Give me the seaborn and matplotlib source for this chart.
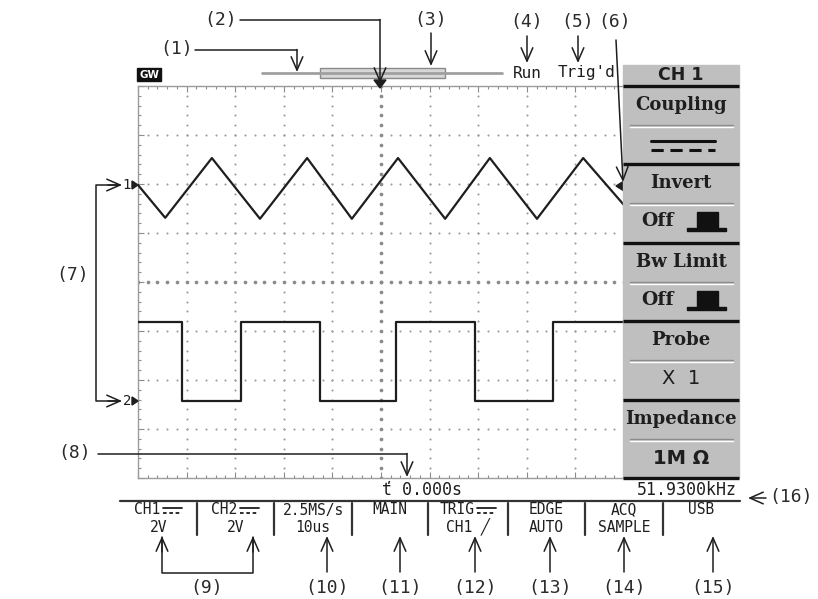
import numpy as np
import matplotlib
matplotlib.use("Agg")
import matplotlib.pyplot as plt
import seaborn as sns
from matplotlib.patches import Rectangle, Polygon

# screen traces in divisions (x 0..10, y -4..4)
ch1_t = [0.0, 0.56, 1.52, 2.51, 3.48, 4.40, 5.35, 6.32, 7.24, 8.21, 9.16, 10.0]
ch1_v = [1.98, 1.31, 2.53, 1.29, 2.53, 1.29, 2.53, 1.29, 2.53, 1.29, 2.53, 1.57]
ch2_edges = [0.0, 0.91, 2.12, 3.74, 5.31, 6.93, 8.54, 10.0]
ch2_level = [-0.82, -2.43, -0.82, -2.43, -0.82, -2.43, -0.82, -0.82]

# side menu and status bar text
menu_titles = ["Coupling", "Invert", "Bw Limit", "Probe", "Impedance"]
menu_values = ["", "Off", "Off", "X  1", "1M \u03a9"]
bar_top = ["CH1", "CH2", "2.5MS/s", "MAIN", "TRIG", "EDGE", "ACQ", "USB"]
bar_bottom = ["2V", "2V", "10us", "", "CH1 \u2571", "AUTO", "SAMPLE", ""]
bar_callouts = ["(9)", "(10)", "(11)", "(12)", "(13)", "(14)", "(15)"]

W, H = 818, 599
INK = "#1e1e1e"
MONO = "DejaVu Sans Mono"
SERIF = "DejaVu Serif"

sns.set_theme(style="white")
plt.rcParams["font.family"] = ["DejaVu Sans"]

fig = plt.figure(figsize=(W / 100, H / 100), dpi=100)
fig.patch.set_facecolor("white")

# ---- oscilloscope screen ----
sx0, sx1, sy0, sy1 = 138, 624, 86, 478
ax = fig.add_axes([sx0 / W, 1 - sy1 / H, (sx1 - sx0) / W, (sy1 - sy0) / H])
ax.set_xlim(0, 10)
ax.set_ylim(-4, 4)
ax.set_facecolor("white")

fine = np.arange(0, 10.01, 0.2)
fine_y = np.arange(-4, 4.01, 0.2)
for gy in [-3, -2, -1, 1, 2, 3]:
    ax.scatter(fine, np.full_like(fine, gy), s=2.2, color="#9a9a9a", lw=0, zorder=1)
for gx in [1, 2, 3, 4, 6, 7, 8, 9]:
    ax.scatter(np.full_like(fine_y, gx), fine_y, s=2.2, color="#9a9a9a", lw=0, zorder=1)
# centre cross, heavier dots
ax.scatter(fine, np.zeros_like(fine), s=7, color="#8a8a8a", lw=0, zorder=1)
ax.scatter(np.full_like(fine_y, 5), fine_y, s=7, color="#8a8a8a", lw=0, zorder=1)

ax.set_xticks(np.arange(0, 11, 1))
ax.set_yticks(np.arange(-4, 5, 1))
ax.set_xticks(fine, minor=True)
ax.set_yticks(fine_y, minor=True)
ax.tick_params(which="both", direction="in", top=True, bottom=True, left=True, right=False,
               labelbottom=False, labelleft=False, color="#8c8c8c", width=0.8)
ax.tick_params(which="major", length=4)
ax.tick_params(which="minor", length=2.5)
for side, sp in ax.spines.items():
    sp.set_color("#9c9c9c")
    sp.set_linewidth(1.0)
ax.spines["right"].set_visible(False)

sns.lineplot(x=ch1_t, y=ch1_v, ax=ax, sort=False, estimator=None, color=INK, lw=1.6, zorder=3)
sns.lineplot(x=ch2_edges, y=ch2_level, ax=ax, sort=False, estimator=None, color=INK, lw=1.6,
             drawstyle="steps-post", zorder=3)

# ---- overlay in pixel coordinates ----
ov = fig.add_axes([0, 0, 1, 1], zorder=5)
ov.set_xlim(0, W)
ov.set_ylim(H, 0)
ov.axis("off")
ov.patch.set_alpha(0)


def arrow(tip, tail, lw=1.1):
    ov.annotate("", xy=tip, xytext=tail,
                arrowprops=dict(arrowstyle="->,head_length=0.8,head_width=0.35",
                                lw=lw, color=INK, shrinkA=0, shrinkB=0))


def label(x, y, s, **kw):
    ov.text(x, y, s, ha="center", va="center", family=MONO, fontsize=13, color="#2a2a2a", **kw)


# top status strip
ov.add_patch(Rectangle((137, 68), 24, 13, color="#111111"))
ov.text(149, 74.5, "GW", ha="center", va="center", color="white", fontsize=7.5, weight="bold")
ov.plot([262, 502], [73, 73], color="#a0a0a0", lw=2)
ov.add_patch(Rectangle((320, 68), 125, 10, facecolor="#d8d8d8", edgecolor="#8a8a8a", lw=1))
ov.add_patch(Polygon([[374, 80], [386, 80], [380, 88]], closed=True, color=INK))
ov.text(527, 73, "Run", ha="center", va="center", family=MONO, fontsize=11.5, color=INK)
ov.text(586, 73, "Trig'd", ha="center", va="center", family=MONO, fontsize=11.5, color=INK)

# trigger level and channel markers
ov.add_patch(Polygon([[624, 181], [624, 191], [616, 186]], closed=True, color=INK))
for yy, ch in [(185, "1"), (401, "2")]:
    ov.text(127, yy, ch, ha="center", va="center", family=MONO, fontsize=10, color=INK)
    ov.add_patch(Polygon([[132, yy - 4], [132, yy + 4], [138, yy]], closed=True, color=INK))

# side menu
mx0, mx1 = 623, 739
ov.add_patch(Rectangle((mx0, 65), mx1 - mx0, 413, color="#bfbfbf", zorder=1))
ov.text(681, 75, "CH 1", ha="center", va="center", fontsize=12.5, weight="bold", color=INK)
bounds = [86, 164, 243, 321, 400, 478]
for i, title in enumerate(menu_titles):
    top = bounds[i]
    ov.plot([mx0, mx1], [top, top], color="#111111", lw=2.4, solid_capstyle="butt")
    ov.text(681, top + 19, title, ha="center", va="center", family=SERIF, weight="bold",
            fontsize=13, color=INK)
    ov.plot([630, 733], [top + 39, top + 39], color="#8c8c8c", lw=1)
    ov.plot([630, 733], [top + 41, top + 41], color="white", lw=1)
    val = menu_values[i]
    vy = top + 58
    if title in ("Invert", "Bw Limit"):
        ov.text(658, vy - 1, val, ha="center", va="center", family=SERIF, weight="bold",
                fontsize=13.5, color=INK)
        ov.add_patch(Rectangle((687, vy + 6), 39, 3, color="#111111"))
        ov.add_patch(Rectangle((697, vy - 10), 21, 17, color="#111111"))
    elif title == "Coupling":
        ov.plot([651, 715], [vy - 3, vy - 3], color="#111111", lw=2.2)
        ov.plot([651, 715], [vy + 6, vy + 6], color="#111111", lw=2.2, dashes=(4, 2.2))
    elif title == "Probe":
        ov.text(681, vy, val, ha="center", va="center", fontsize=14, color=INK)
    else:
        ov.text(681, vy, val, ha="center", va="center", fontsize=14, weight="bold", color=INK)
ov.plot([mx0, mx1], [478, 478], color="#111111", lw=2.4, solid_capstyle="butt")

# time / frequency line and bottom bar
ov.text(422, 490, "\u0165 0.000s", ha="center", va="center", family=MONO, fontsize=12, color=INK)
ov.text(737, 490, "51.9300kHz", ha="right", va="center", family=MONO, fontsize=12, color=INK)
ov.plot([120, 740], [501, 501], color="#333333", lw=1.6)
seps = [120, 197, 274, 352, 428, 508, 585, 663, 740]
for sx in seps[1:-1]:
    ov.plot([sx, sx], [503, 535], color="#333333", lw=1.6)
BAR_FS = 10.5
char_w = 0.602 * BAR_FS * 100 / 72
for i, (t1, t2) in enumerate(zip(bar_top, bar_bottom)):
    cx = (seps[i] + seps[i + 1]) / 2
    if t1 in ("CH1", "CH2", "TRIG"):
        tx = cx - 11
        ov.text(tx, 510, t1, ha="center", va="center", family=MONO, fontsize=BAR_FS, color=INK)
        x0 = tx + char_w * len(t1) / 2 + 2
        ov.plot([x0, x0 + 19], [508, 508], color=INK, lw=1.3)
        ov.plot([x0, x0 + 19], [513, 513], color=INK, lw=1.3, dashes=(2, 1.5))
    else:
        ov.text(cx, 510, t1, ha="center", va="center", family=MONO, fontsize=BAR_FS, color=INK)
    ov.text(cx, 527, t2, ha="center", va="center", family=MONO, fontsize=BAR_FS, color=INK)

# callouts along the bottom
ov.plot([162, 162, 253, 253], [537, 573, 573, 537], color=INK, lw=1.1)
arrow((162, 536), (162, 552))
arrow((253, 536), (253, 552))
label(207, 588, bar_callouts[0])
for x, txt in zip([327, 400, 475, 550, 624, 713], bar_callouts[1:]):
    arrow((x, 536), (x, 572))
    label(x, 588, txt)
arrow((748, 498), (766, 498))
label(791, 497, "(16)")

# callouts along the top
label(177, 49, "(1)")
ov.plot([195, 297], [50, 50], color=INK, lw=1.1)
arrow((297, 72), (297, 49.5))
label(221, 20, "(2)")
ov.plot([240, 380], [20, 20], color=INK, lw=1.1)
arrow((380, 83), (380, 19.5))
label(431, 20, "(3)")
arrow((431, 66), (431, 33))
label(527, 22, "(4)")
arrow((527, 63), (527, 36))
label(578, 22, "(5)")
arrow((578, 63), (578, 36))
label(615, 22, "(6)")
arrow((623, 182), (616, 40))

# callouts on the left
label(73, 275, "(7)")
ov.plot([120, 96, 96, 120], [185, 185, 401, 401], color=INK, lw=1.1)
arrow((122, 185), (108, 185))
arrow((122, 401), (108, 401))
label(75, 453, "(8)")
ov.plot([98, 407], [454, 454], color=INK, lw=1.1)
arrow((407, 477), (407, 453.5))

fig.savefig("out.png", dpi=100, facecolor="white")
